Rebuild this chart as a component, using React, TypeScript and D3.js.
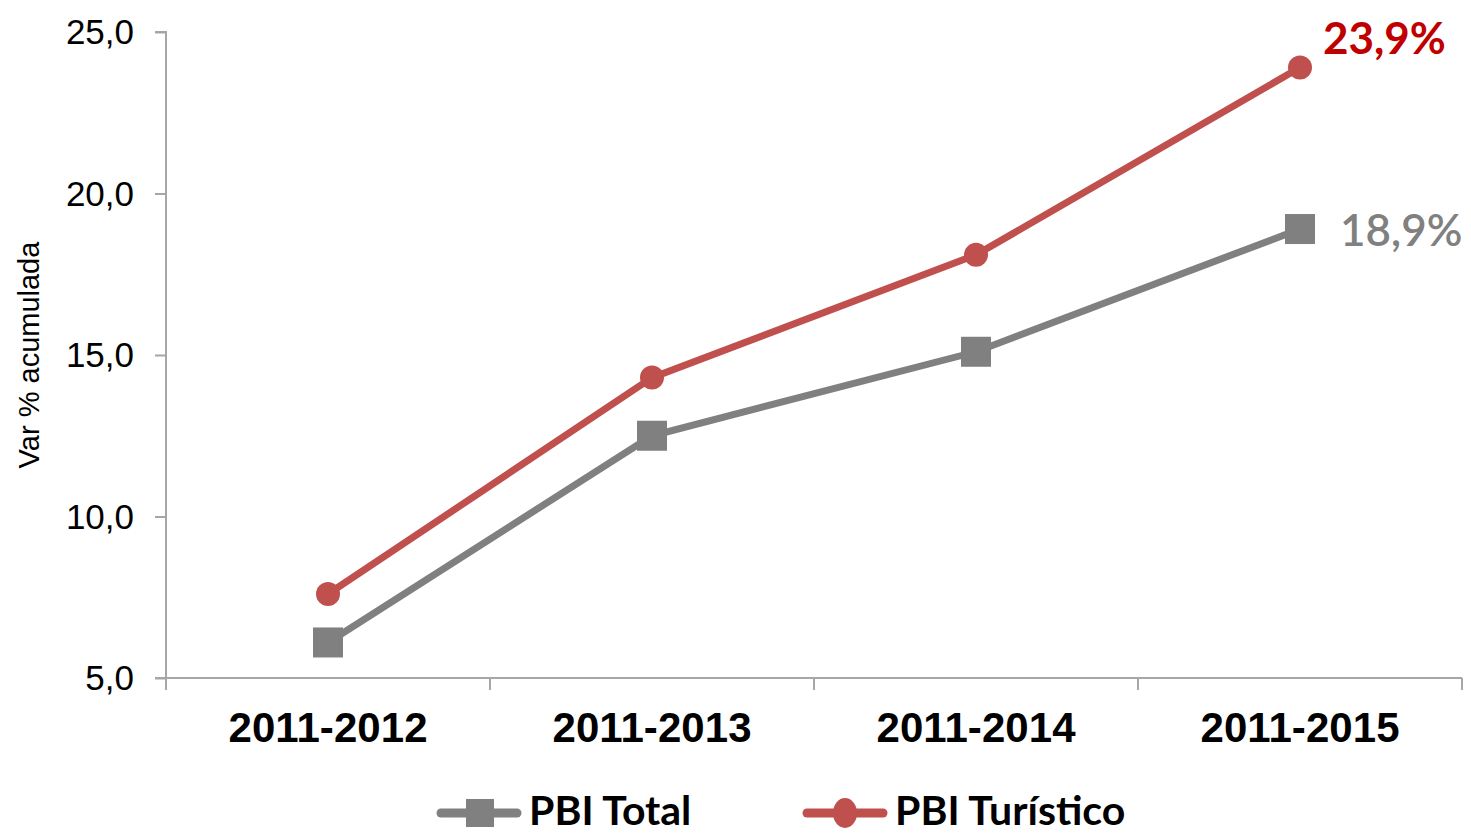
import React, { useEffect, useRef } from 'react';
import * as d3 from 'd3';

const categories = ['2011-2012', '2011-2013', '2011-2014', '2011-2015'];
const pbiTotal = [6.1, 12.5, 15.1, 18.9];
const pbiTuristico = [7.6, 14.3, 18.1, 23.9];
const yTicks = [5, 10, 15, 20, 25];

const GRAY = '#808080';
const RED = '#C0504D';

const App = () => {
  const svgRef = useRef<SVGSVGElement>(null);

  useEffect(() => {
    const svg = d3.select(svgRef.current);
    svg.selectAll('*').remove();

    const margin = { top: 32, right: 9, bottom: 157, left: 166 };
    const width = 1471 - margin.left - margin.right;
    const height = 835 - margin.top - margin.bottom;

    const x = d3.scaleBand().domain(categories).range([0, width]);
    const y = d3.scaleLinear().domain([5, 25]).range([height, 0]);

    const g = svg.append('g').attr('transform', `translate(${margin.left},${margin.top})`);

    // y axis
    const yAxis = g
      .append('g')
      .call(d3.axisLeft(y).tickValues(yTicks).tickSize(11).tickPadding(21).tickFormat((d) => d3.format('.1f')(d as number).replace('.', ',')));
    yAxis.select('.domain').attr('stroke', '#a6a6a6').attr('stroke-width', 2).attr('d', `M-11,0H0V${height}`);
    yAxis.selectAll('.tick line').attr('stroke', '#a6a6a6').attr('stroke-width', 2);
    yAxis.selectAll('.tick text').attr('font-family', 'Liberation Sans, Arial, sans-serif').attr('font-size', 35).attr('fill', '#000').attr('dy', '0.34em');

    // x axis
    const xAxis = g.append('g').attr('transform', `translate(0,${height})`);
    xAxis.append('line').attr('x1', -11).attr('x2', width).attr('stroke', '#a6a6a6').attr('stroke-width', 2);
    const boundaries = categories.map((c) => x(c) as number).concat([width]);
    xAxis
      .selectAll('.xt')
      .data(boundaries)
      .enter()
      .append('line')
      .attr('x1', (d) => d)
      .attr('x2', (d) => d)
      .attr('y1', 0)
      .attr('y2', 12)
      .attr('stroke', '#a6a6a6')
      .attr('stroke-width', 2);
    xAxis
      .selectAll('.xl')
      .data(categories)
      .enter()
      .append('text')
      .attr('x', (d) => (x(d) as number) + x.bandwidth() / 2)
      .attr('y', 64)
      .attr('text-anchor', 'middle')
      .attr('font-family', 'Liberation Sans, Arial, sans-serif')
      .attr('font-weight', 'bold')
      .attr('font-size', 42)
      .attr('textLength', 199)
      .attr('fill', '#000')
      .text((d) => d);

    // y label
    svg
      .append('text')
      .attr('transform', `translate(39,355) rotate(-90)`)
      .attr('text-anchor', 'middle')
      .attr('font-family', 'Liberation Sans, Arial, sans-serif')
      .attr('font-size', 29)
      .attr('fill', '#000')
      .text('Var % acumulada');

    const cx = (i: number) => (x(categories[i]) as number) + x.bandwidth() / 2;
    const line = d3
      .line<number>()
      .x((_, i) => cx(i))
      .y((d) => y(d));

    g.append('path').datum(pbiTotal).attr('d', line).attr('fill', 'none').attr('stroke', GRAY).attr('stroke-width', 7);
    g.append('path').datum(pbiTuristico).attr('d', line).attr('fill', 'none').attr('stroke', RED).attr('stroke-width', 7);

    g.selectAll('.sq')
      .data(pbiTotal)
      .enter()
      .append('rect')
      .attr('x', (_, i) => cx(i) - 15)
      .attr('y', (d) => y(d) - 15)
      .attr('width', 30)
      .attr('height', 30)
      .attr('fill', GRAY);

    g.selectAll('.ci')
      .data(pbiTuristico)
      .enter()
      .append('circle')
      .attr('cx', (_, i) => cx(i))
      .attr('cy', (d) => y(d))
      .attr('r', 12)
      .attr('fill', RED);

    // value labels on last points
    const last = categories.length - 1;
    g.append('text')
      .attr('x', cx(last) + 23)
      .attr('y', y(pbiTuristico[last]) - 14)
      .attr('font-family', 'Lato, Open Sans, sans-serif')
      .attr('font-weight', 'bold')
      .attr('font-size', 44)
      .attr('fill', '#C00000')
      .text('23,9%');
    g.append('text')
      .attr('x', cx(last) + 40)
      .attr('y', y(pbiTotal[last]) + 17)
      .attr('font-family', 'Lato, Open Sans, sans-serif')
      .attr('font-weight', 600)
      .attr('font-size', 44)
      .attr('fill', GRAY)
      .text('18,9%');

    // legend
    const legend = svg.append('g').attr('transform', 'translate(0,813)');
    const items = [
      { name: 'PBI Total', color: GRAY, x0: 437, shape: 'rect' },
      { name: 'PBI Turístico', color: RED, x0: 803, shape: 'circle' },
    ];
    items.forEach((it) => {
      legend.append('line').attr('x1', it.x0 + 4).attr('x2', it.x0 + 80).attr('stroke', it.color).attr('stroke-width', 9).attr('stroke-linecap', 'round');
      if (it.shape === 'rect') {
        legend.append('rect').attr('x', it.x0 + 29).attr('y', -14).attr('width', 28).attr('height', 28).attr('fill', it.color);
      } else {
        legend.append('ellipse').attr('cx', it.x0 + 42).attr('cy', 0).attr('rx', 12).attr('ry', 15).attr('fill', it.color);
      }
      legend
        .append('text')
        .attr('x', it.x0 + 92)
        .attr('y', 12)
        .attr('font-family', 'Lato, Open Sans, sans-serif')
        .attr('font-weight', 'bold')
        .attr('font-size', 41)
        .attr('fill', '#000')
        .text(it.name);
    });
  }, []);

  return <svg ref={svgRef} width={1471} height={835} style={{ position: 'absolute', left: 0, top: 0 }} />;
};

export default App;
